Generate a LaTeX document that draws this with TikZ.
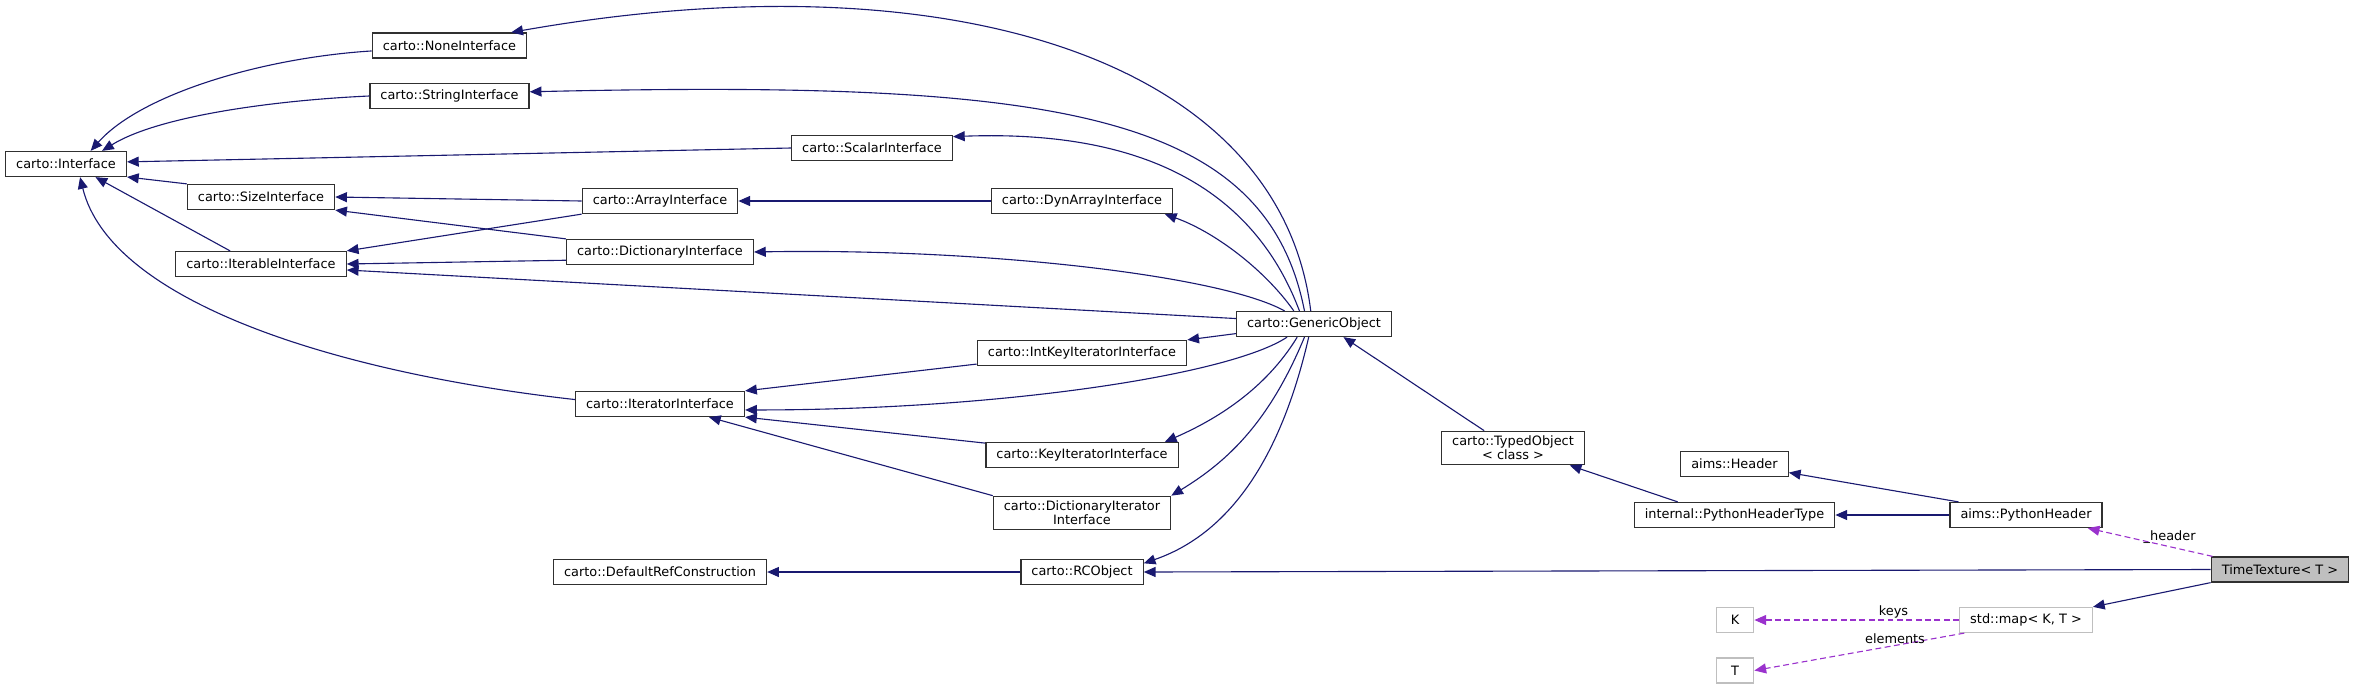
\documentclass[tikz,border=0pt]{standalone}
\usepackage{fontspec}
\setsansfont{DejaVu Sans}
\usepackage{tikz}
\usetikzlibrary{arrows.meta}
\definecolor{edgeBlue}{RGB}{25,25,112}
\definecolor{usePurple}{RGB}{154,50,205}
\definecolor{boxLine}{RGB}{48,48,48}
\definecolor{focusFill}{RGB}{191,191,191}
\definecolor{extLine}{RGB}{191,191,191}

\begin{document}
\begin{tikzpicture}[x=0.03cm, y=-0.03cm,
  every node/.style={font=\sffamily\fontsize{11}{12}\selectfont},
  cls/.style={draw=boxLine, fill=white, line width=1.1pt, minimum height=21.3pt,
    inner xsep=9pt, inner ysep=4pt, align=center},
  focuscls/.style={cls, fill=focusFill},
  extcls/.style={cls, draw=extLine, minimum width=32pt},
  inherit/.style={draw=edgeBlue, line width=0.95pt, -{Triangle[length=10pt, width=8.5pt, fill=edgeBlue]}},
  uses/.style={draw=usePurple, line width=0.95pt, dash pattern=on 5pt off 3pt,
    -{Triangle[length=10pt, width=8.5pt, fill=usePurple]}},
  edgelbl/.style={text=black, inner sep=1pt},
]
\useasboundingbox (0,0) rectangle (2356,690);
% interfaces
\node[cls] (iface) at (66,164) {carto::Interface};
\node[cls] (noneif) at (449.5,45.5) {carto::NoneInterface};
\node[cls] (strif) at (449.5,96) {carto::StringInterface};
\node[cls] (sizeif) at (261,197) {carto::SizeInterface};
\node[cls] (iterableif) at (261,264) {carto::IterableInterface};
\node[cls] (arrayif) at (660,201) {carto::ArrayInterface};
\node[cls] (dictif) at (660,252) {carto::DictionaryInterface};
\node[cls] (scalarif) at (872,148) {carto::ScalarInterface};
\node[cls] (dynarrayif) at (1082,201) {carto::DynArrayInterface};
\node[cls] (iteratorif) at (660,404) {carto::IteratorInterface};
\node[cls] (intkeyif) at (1082,353) {carto::IntKeyIteratorInterface};
\node[cls] (keyiterif) at (1082,455) {carto::KeyIteratorInterface};
\node[cls] (dictiterif) at (1082,513) {carto::DictionaryIterator\\Interface};
% objects
\node[cls] (defref) at (660,572) {carto::DefaultRefConstruction};
\node[cls] (rcobj) at (1082,572) {carto::RCObject};
\node[cls] (generic) at (1314,324) {carto::GenericObject};
\node[cls] (typedobj) at (1513,448) {carto::TypedObject\\< class >};
% headers
\node[cls] (header) at (1734.5,464) {aims::Header};
\node[cls] (pyhdrtype) at (1734.5,515) {internal::PythonHeaderType};
\node[cls] (pyhdr) at (2026,515) {aims::PythonHeader};
\node[focuscls] (timetex) at (2280,569.5) {TimeTexture< T >};
% std containers
\node[extcls] (stdmap) at (2026,620) {std::map< K, T >};
\node[extcls] (keyK) at (1735,620) {K};
\node[extcls] (elemT) at (1735,670.5) {T};
% inheritance into carto::Interface
\draw[inherit] (noneif.184) .. controls (260,58) and (140,95) .. (iface.28);
\draw[inherit] (strif.west) .. controls (280,100) and (160,115) .. (iface.20);
\draw[inherit] (scalarif.west) -- (iface.2);
\draw[inherit] (sizeif.north west) -- (iface.-12);
\draw[inherit] (iterableif.157) -- (iface.-24);
\draw[inherit] (iteratorif.177) .. controls (330,372) and (110,300) .. (iface.-43);
% size / iterable
\draw[inherit] (arrayif.west) -- (sizeif.east);
\draw[inherit] (dictif.north west) -- (sizeif.south east);
\draw[inherit] (arrayif.south west) -- (iterableif.north east);
\draw[inherit] (dictif.185) -- (iterableif.east);
\draw[inherit] (generic.176) -- (iterableif.-4);
\draw[inherit] (dynarrayif.west) -- (arrayif.east);
% generic object
\draw[inherit] (generic.104) .. controls (1280,60) and (950,-45) .. (noneif.12);
\draw[inherit] (generic.126) .. controls (1265,110) and (1050,80) .. (strif.3);
\draw[inherit] (generic.138) .. controls (1250,180) and (1130,130) .. (scalarif.8);
\draw[inherit] (generic.147) .. controls (1265,270) and (1215,232) .. (dynarrayif.-9);
\draw[inherit] (generic.156) .. controls (1220,275) and (980,248) .. (dictif.east);
\draw[inherit] (generic.187) -- (intkeyif.north east);
\draw[inherit] (generic.206) .. controls (1230,375) and (1000,410) .. (iteratorif.-4);
\draw[inherit] (generic.218) .. controls (1265,390) and (1215,420) .. (keyiterif.9);
\draw[inherit] (generic.234) .. controls (1270,420) and (1230,460) .. (dictiterif.north east);
\draw[inherit] (generic.248) .. controls (1285,440) and (1240,530) .. (rcobj.8);
% iterators
\draw[inherit] (intkeyif.186) -- (iteratorif.north east);
\draw[inherit] (keyiterif.173) -- (iteratorif.south east);
\draw[inherit] (dictiterif.north west) -- (iteratorif.-15);
\draw[inherit] (rcobj.west) -- (defref.east);
% headers
\draw[inherit] (typedobj.149) -- (generic.336);
\draw[inherit] (pyhdrtype.167) -- (typedobj.-17);
\draw[inherit] (pyhdr.169) -- (header.-9);
\draw[inherit] (pyhdr.west) -- (pyhdrtype.east);
% TimeTexture
\draw[inherit] (timetex.west) -- (rcobj.east);
\draw[inherit] (timetex.south west) -- (stdmap.north east);
\draw[uses] (timetex.169) -- node[edgelbl, pos=0.4, above, xshift=6pt] {\_header} (pyhdr.-12);
\draw[uses] (stdmap.west) -- node[edgelbl, pos=0.32, above] {keys} (keyK.east);
\draw[uses] (stdmap.192) -- node[edgelbl, pos=0.33, above] {elements} (elemT.east);
\end{tikzpicture}
\end{document}
